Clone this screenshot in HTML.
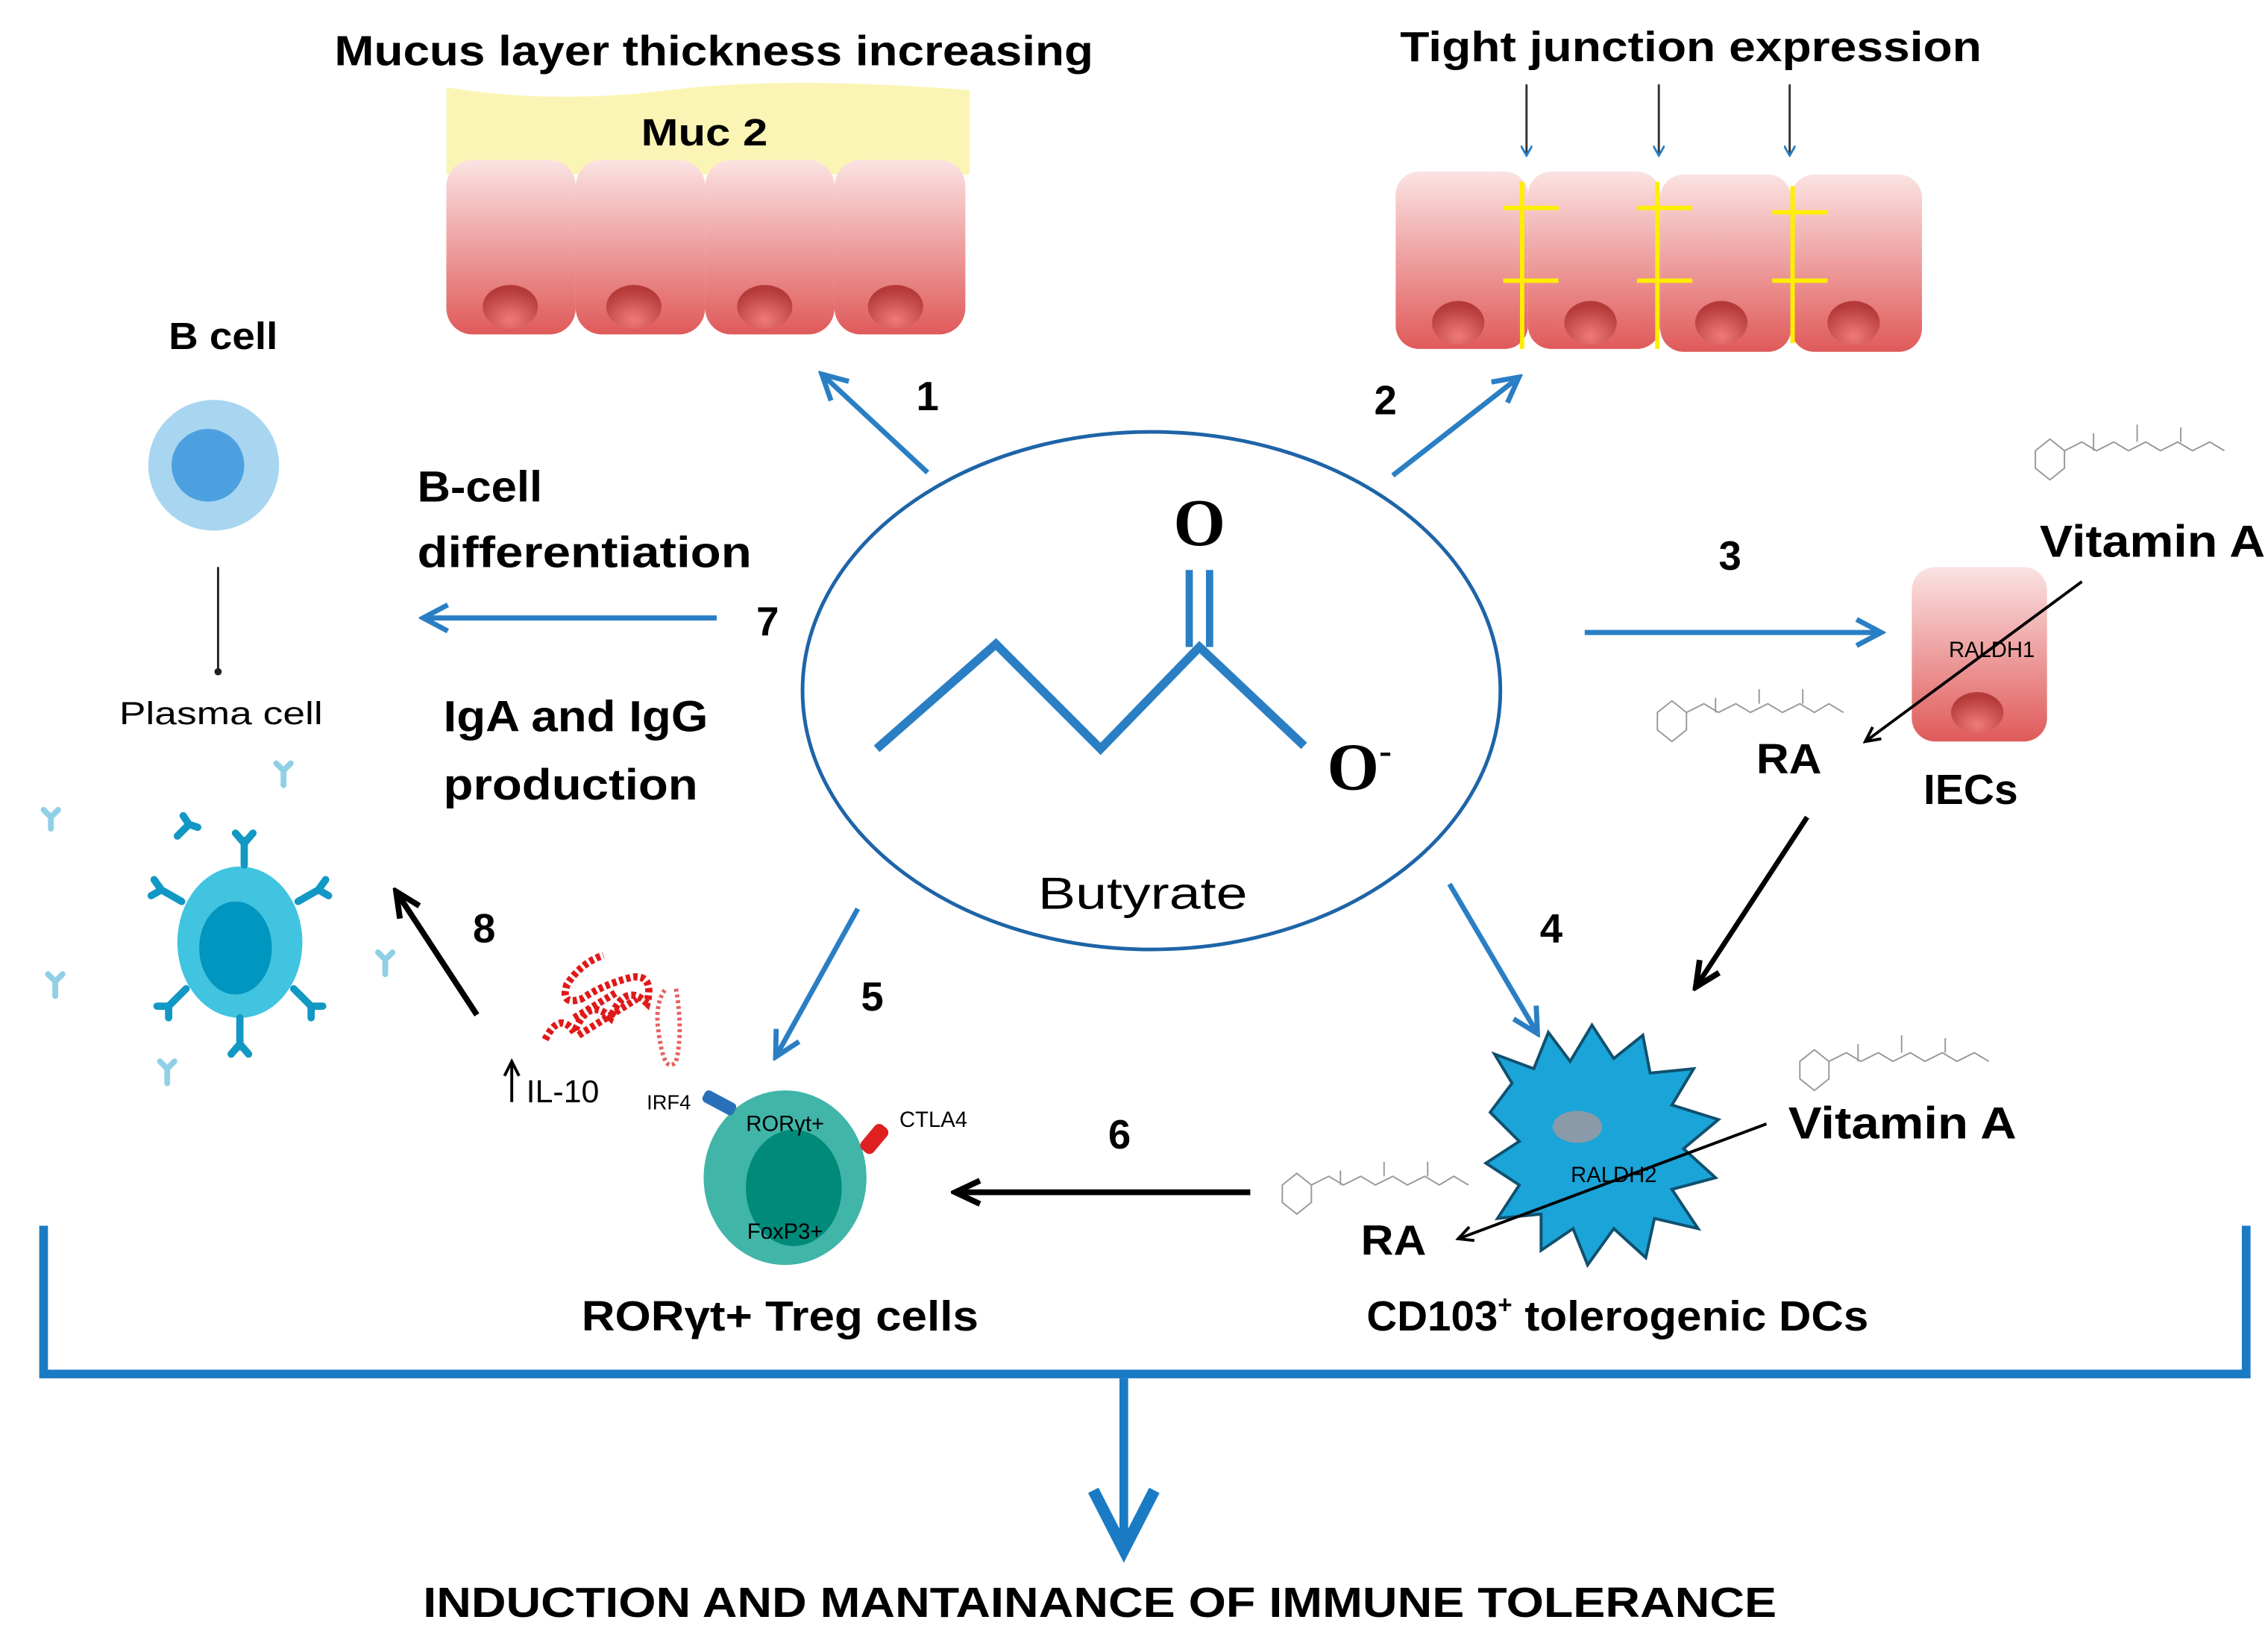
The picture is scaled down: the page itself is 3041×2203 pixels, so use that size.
<!DOCTYPE html>
<html><head><meta charset="utf-8"><style>html,body{margin:0;padding:0;background:#fff}svg{display:block}</style></head>
<body>
<svg width="3041" height="2203" viewBox="0 0 1560 1130" preserveAspectRatio="none" xmlns="http://www.w3.org/2000/svg" font-family="Liberation Sans, sans-serif" font-weight="bold">
<defs>
<linearGradient id="cell" x1="0" y1="0" x2="0" y2="1"><stop offset="0" stop-color="#fbe3e3"/><stop offset="1" stop-color="#e05a5a"/></linearGradient>
<radialGradient id="nuc" cx="0.5" cy="0.8" r="0.7"><stop offset="0" stop-color="#f07a7a"/><stop offset="1" stop-color="#b53a3a"/></radialGradient>
<marker id="bl" markerWidth="8" markerHeight="8" refX="6" refY="4" orient="auto" markerUnits="userSpaceOnUse" viewBox="0 0 8 8"><path d="M0,0 L7,4 L0,8" fill="none" stroke="#2a7fc4" stroke-width="1.5"/></marker>
<marker id="ba" markerWidth="24" markerHeight="24" refX="20" refY="12" orient="auto" markerUnits="userSpaceOnUse"><path d="M4,3 L21,12 L4,21" fill="none" stroke="#2a7fc4" stroke-width="3.5"/></marker>
<marker id="ka" markerWidth="24" markerHeight="24" refX="20" refY="12" orient="auto" markerUnits="userSpaceOnUse"><path d="M4,4 L21,12 L4,20" fill="none" stroke="#000" stroke-width="4"/></marker>
<marker id="ks" markerWidth="14" markerHeight="14" refX="12" refY="7" orient="auto" markerUnits="userSpaceOnUse"><path d="M2,2 L12,7 L2,12" fill="none" stroke="#000" stroke-width="2"/></marker>
</defs>

<!-- Mucus -->
<text x="230" y="45" font-size="29" textLength="522" lengthAdjust="spacingAndGlyphs">Mucus layer thickness increasing</text>
<path d="M307,60 Q380,72 460,62 T667,62 L667,120 L307,120 Z" fill="#fbf5b5"/>
<text x="441" y="100" font-size="26" textLength="87" lengthAdjust="spacingAndGlyphs">Muc 2</text>
<g>
<rect x="307" y="110" width="89" height="120" rx="18" fill="url(#cell)"/>
<rect x="396" y="110" width="89" height="120" rx="18" fill="url(#cell)"/>
<rect x="485" y="110" width="89" height="120" rx="18" fill="url(#cell)"/>
<rect x="574" y="110" width="90" height="120" rx="18" fill="url(#cell)"/>
<ellipse cx="351" cy="211" rx="19" ry="15" fill="url(#nuc)"/>
<ellipse cx="436" cy="211" rx="19" ry="15" fill="url(#nuc)"/>
<ellipse cx="526" cy="211" rx="19" ry="15" fill="url(#nuc)"/>
<ellipse cx="616" cy="211" rx="19" ry="15" fill="url(#nuc)"/>
</g>

<!-- Tight junction -->
<text x="963" y="42" font-size="29" textLength="400" lengthAdjust="spacingAndGlyphs">Tight junction expression</text>
<g stroke="#333" stroke-width="1.5" marker-end="url(#bl)">
<line x1="1050" y1="58" x2="1050" y2="106"/><line x1="1141" y1="58" x2="1141" y2="106"/><line x1="1231" y1="58" x2="1231" y2="106"/>
</g>
<rect x="960" y="118" width="91" height="122" rx="16" fill="url(#cell)"/>
<rect x="1051" y="118" width="91" height="122" rx="16" fill="url(#cell)"/>
<rect x="1142" y="120" width="90" height="122" rx="16" fill="url(#cell)"/>
<rect x="1232" y="120" width="90" height="122" rx="16" fill="url(#cell)"/>
<ellipse cx="1003" cy="222" rx="18" ry="15" fill="url(#nuc)"/>
<ellipse cx="1094" cy="222" rx="18" ry="15" fill="url(#nuc)"/>
<ellipse cx="1184" cy="222" rx="18" ry="15" fill="url(#nuc)"/>
<ellipse cx="1275" cy="222" rx="18" ry="15" fill="url(#nuc)"/>
<g stroke="#ffee00" stroke-width="3">
<line x1="1047" y1="125" x2="1047" y2="240"/><line x1="1140" y1="125" x2="1140" y2="240"/><line x1="1233" y1="128" x2="1233" y2="236"/>
<line x1="1034" y1="143" x2="1072" y2="143"/><line x1="1034" y1="193" x2="1072" y2="193"/>
<line x1="1126" y1="143" x2="1164" y2="143"/><line x1="1126" y1="193" x2="1164" y2="193"/>
<line x1="1219" y1="146" x2="1257" y2="146"/><line x1="1219" y1="193" x2="1257" y2="193"/>
</g>

<!-- Center -->
<ellipse cx="792" cy="475" rx="240" ry="178" fill="none" stroke="#1e64a8" stroke-width="2.5"/>
<polyline points="603,515 685,443 757,515 825,445 897,513" fill="none" stroke="#2a7fc4" stroke-width="6"/>
<line x1="818" y1="445" x2="818" y2="392" stroke="#2a7fc4" stroke-width="5"/>
<line x1="832" y1="445" x2="832" y2="392" stroke="#2a7fc4" stroke-width="5"/>
<text x="825" y="375" font-size="46" text-anchor="middle" font-family="Liberation Serif, serif">O</text>
<text x="935" y="543" font-size="46" text-anchor="middle" font-family="Liberation Serif, serif">O<tspan font-size="26" dy="-18">-</tspan></text>
<text x="714" y="625" font-size="31" font-weight="normal" textLength="144" lengthAdjust="spacingAndGlyphs">Butyrate</text>

<!-- blue arrows -->
<g stroke="#2a7fc4" stroke-width="3.5" fill="none" marker-end="url(#ba)">
<line x1="638" y1="325" x2="566" y2="258"/>
<line x1="958" y1="327" x2="1044" y2="260"/>
<line x1="493" y1="425" x2="292" y2="425"/>
<line x1="1090" y1="435" x2="1293" y2="435"/>
<line x1="590" y1="625" x2="534" y2="726"/>
<line x1="997" y1="608" x2="1057" y2="710"/>
</g>
<g font-size="28">
<text x="638" y="282" text-anchor="middle">1</text>
<text x="953" y="285" text-anchor="middle">2</text>
<text x="1190" y="392" text-anchor="middle">3</text>
<text x="1067" y="648" text-anchor="middle">4</text>
<text x="600" y="695" text-anchor="middle">5</text>
<text x="770" y="790" text-anchor="middle">6</text>
<text x="528" y="437" text-anchor="middle">7</text>
<text x="333" y="648" text-anchor="middle">8</text>
</g>

<!-- B cell -->
<text x="116" y="240" font-size="26" textLength="75" lengthAdjust="spacingAndGlyphs">B cell</text>
<circle cx="147" cy="320" r="45" fill="#a8d6f0"/>
<circle cx="143" cy="320" r="25" fill="#4ca0e0"/>
<line x1="150" y1="390" x2="150" y2="462" stroke="#222" stroke-width="1.5"/>
<circle cx="150" cy="462" r="2.5" fill="#222"/>
<text x="82" y="498" font-size="22" font-weight="normal" textLength="140" lengthAdjust="spacingAndGlyphs">Plasma cell</text>
<text x="287" y="345" font-size="30" textLength="86" lengthAdjust="spacingAndGlyphs">B-cell</text>
<text x="287" y="390" font-size="30" textLength="230" lengthAdjust="spacingAndGlyphs">differentiation</text>
<text x="305" y="503" font-size="30" textLength="182" lengthAdjust="spacingAndGlyphs">IgA and IgG</text>
<text x="305" y="550" font-size="30" textLength="175" lengthAdjust="spacingAndGlyphs">production</text>

<!-- Plasma cell -->
<ellipse cx="165" cy="648" rx="43" ry="52" fill="#40c4e0"/>
<ellipse cx="162" cy="652" rx="25" ry="32" fill="#0096c0"/>
<g stroke="#1198c4" stroke-width="5" fill="none" stroke-linecap="round">
<path d="M168,595 V578 M168,580 l-6,-7 M168,580 l6,-7"/>
<path d="M165,700 V720 M165,718 l-6,7 M165,718 l6,7"/>
<path d="M125,620 l-14,-8 M111,612 l-5,-7 M111,612 l-7,4"/>
<path d="M205,620 l14,-8 M219,612 l5,-7 M219,612 l7,4"/>
<path d="M128,680 l-12,12 M116,692 l-8,0 M116,692 l0,8"/>
<path d="M202,680 l12,12 M214,692 l8,0 M214,692 l0,8"/>
<path d="M122,575 l8,-8 M130,567 l-4,-6 M130,567 l6,2"/>
</g>
<g stroke="#8fd0e6" stroke-width="4" fill="none" stroke-linecap="round">
<path d="M195,540 l0,-10 M195,530 l-5,-5 M195,530 l5,-5"/>
<path d="M35,570 l0,-8 M35,562 l-5,-5 M35,562 l5,-5"/>
<path d="M38,685 l0,-10 M38,675 l-5,-5 M38,675 l5,-5"/>
<path d="M265,670 l0,-10 M265,660 l-5,-5 M265,660 l5,-5"/>
<path d="M115,745 l0,-10 M115,735 l-5,-5 M115,735 l5,-5"/>
</g>

<!-- 8 arrow -->
<line x1="328" y1="698" x2="273" y2="614" stroke="#000" stroke-width="4" marker-end="url(#ka)"/>

<!-- IL-10 -->
<path d="M375,715 q10,-20 20,-5 q10,-25 25,-10 q10,-25 25,-10 q5,-20 -10,-18 q-20,5 -35,15 q-15,5 -10,-10 q10,-15 25,-20 M395,700 l30,-18 M398,712 l40,-25" fill="none" stroke="#e01818" stroke-width="5" stroke-dasharray="3,2"/>
<path d="M465,680 q5,30 0,50 q-8,10 -12,-20 q-3,-20 5,-30" fill="none" stroke="#e86060" stroke-width="3" stroke-dasharray="2,2"/>
<line x1="352" y1="758" x2="352" y2="730" stroke="#000" stroke-width="2" marker-end="url(#ks)"/>
<text x="362" y="758" font-size="22" font-weight="normal">IL-10</text>

<!-- Treg -->
<ellipse cx="540" cy="810" rx="56" ry="60" fill="#40b5a8"/>
<ellipse cx="546" cy="817" rx="33" ry="40" fill="#008a7a"/>
<rect x="483" y="754" width="24" height="9" rx="3" fill="#2a70b8" transform="rotate(28 495 758)"/>
<rect x="590" y="778" width="22" height="11" rx="4" fill="#e02020" transform="rotate(-50 601 783)"/>
<text x="460" y="763" font-size="14" font-weight="normal" text-anchor="middle">IRF4</text>
<text x="540" y="778" font-size="15" font-weight="normal" text-anchor="middle">RORγt+</text>
<text x="540" y="852" font-size="15" font-weight="normal" text-anchor="middle">FoxP3+</text>
<text x="642" y="775" font-size="15" font-weight="normal" text-anchor="middle">CTLA4</text>
<text x="400" y="915" font-size="29" textLength="273" lengthAdjust="spacingAndGlyphs">RORγt+ Treg cells</text>

<!-- 6 arrow -->
<line x1="860" y1="820" x2="658" y2="820" stroke="#000" stroke-width="4" marker-end="url(#ka)"/>

<!-- IEC -->
<rect x="1315" y="390" width="93" height="120" rx="16" fill="url(#cell)"/>
<ellipse cx="1360" cy="490" rx="18" ry="14" fill="url(#nuc)"/>
<text x="1370" y="452" font-size="15" font-weight="normal" text-anchor="middle">RALDH1</text>
<text x="1403" y="383" font-size="31" textLength="155" lengthAdjust="spacingAndGlyphs">Vitamin A</text>
<line x1="1432" y1="400" x2="1283" y2="510" stroke="#000" stroke-width="2" marker-end="url(#ks)"/>
<text x="1208" y="532" font-size="29" textLength="45" lengthAdjust="spacingAndGlyphs">RA</text>
<text x="1323" y="553" font-size="29" textLength="65" lengthAdjust="spacingAndGlyphs">IECs</text>
<line x1="1243" y1="562" x2="1167" y2="678" stroke="#000" stroke-width="3.5" marker-end="url(#ka)"/>

<!-- molecule sketches -->
<g fill="none" stroke="#999" stroke-width="1">
<path d="M1400,310 l10,-8 l10,8 l0,12 l-10,8 l-10,-8 z M1420,310 l12,-6 l10,6 l12,-6 l10,6 l12,-6 l10,6 l12,-6 l10,6 l12,-6 l10,6 M1440,310 l0,-12 M1470,304 l0,-12 M1500,304 l0,-10"/>
<path d="M1140,490 l10,-8 l10,8 l0,12 l-10,8 l-10,-8 z M1160,490 l12,-6 l10,6 l12,-6 l10,6 l12,-6 l10,6 l12,-6 l10,6 l10,-6 l10,6 M1180,490 l0,-10 M1210,484 l0,-10 M1240,484 l0,-10"/>
<path d="M1238,730 l10,-8 l10,8 l0,12 l-10,8 l-10,-8 z M1258,730 l12,-6 l10,6 l12,-6 l10,6 l12,-6 l10,6 l12,-6 l10,6 l12,-6 l10,6 M1278,730 l0,-12 M1308,724 l0,-12 M1338,724 l0,-10"/>
<path d="M882,815 l10,-8 l10,8 l0,12 l-10,8 l-10,-8 z M902,815 l12,-6 l10,6 l12,-6 l10,6 l12,-6 l10,6 l12,-6 l10,6 l10,-6 l10,6 M922,815 l0,-10 M952,809 l0,-10 M982,809 l0,-10"/>
</g>

<!-- DC -->
<path d="M1040,745 L1028,725 L1055,735 L1065,710 L1080,730 L1095,705 L1110,728 L1130,712 L1135,738 L1165,735 L1150,760 L1182,770 L1158,790 L1180,810 L1150,818 L1168,845 L1138,838 L1132,865 L1110,845 L1092,870 L1082,845 L1060,860 L1060,835 L1030,838 L1045,815 L1022,800 L1045,785 L1025,765 Z" fill="#1aa4d8" stroke="#10506e" stroke-width="2"/>
<ellipse cx="1085" cy="775" rx="17" ry="11" fill="#8a9aa8"/>
<text x="1110" y="813" font-size="15" font-weight="normal" text-anchor="middle">RALDH2</text>
<text x="1230" y="783" font-size="31" textLength="157" lengthAdjust="spacingAndGlyphs">Vitamin A</text>
<line x1="1215" y1="773" x2="1003" y2="852" stroke="#000" stroke-width="2" marker-end="url(#ks)"/>
<text x="936" y="863" font-size="29" textLength="45" lengthAdjust="spacingAndGlyphs">RA</text>
<text x="940" y="915" font-size="29">CD103<tspan font-size="17" dy="-12">+</tspan><tspan dy="12" textLength="245" lengthAdjust="spacingAndGlyphs"> tolerogenic DCs</tspan></text>

<!-- bracket -->
<path d="M30,843 V945 H1545 V843" fill="none" stroke="#1a7bc4" stroke-width="6"/>
<line x1="773" y1="948" x2="773" y2="1062" stroke="#1a7bc4" stroke-width="6"/>
<path d="M752,1025 L773,1066 L794,1025" fill="none" stroke="#1a7bc4" stroke-width="8"/>
<text x="291" y="1112" font-size="29" textLength="931" lengthAdjust="spacingAndGlyphs">INDUCTION AND MANTAINANCE OF IMMUNE TOLERANCE</text>
</svg>
</body></html>
